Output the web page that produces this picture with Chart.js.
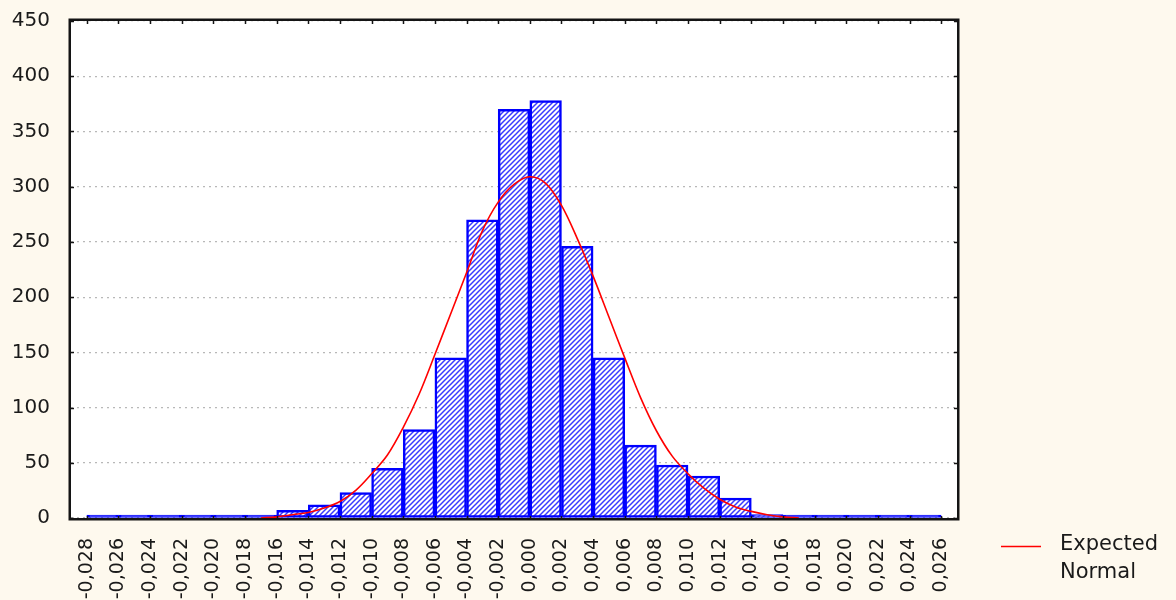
<!DOCTYPE html>
<html>
<head>
<meta charset="utf-8">
<script src="https://cdn.jsdelivr.net/npm/chart.js@4.4.0/dist/chart.umd.min.js"></script>
<style>
  html, body { margin: 0; padding: 0; background: #FEF9EE; }
  #wrap { width: 1176px; height: 600px; position: relative; }
</style>
</head>
<body>
<div id="wrap"><canvas id="c" width="1176" height="600"></canvas></div>
<script>
// ---------- DATA ----------
const binStarts = [-0.028, -0.026, -0.024, -0.022, -0.020, -0.018, -0.016, -0.014, -0.012,
                   -0.010, -0.008, -0.006, -0.004, -0.002, 0.000, 0.002, 0.004, 0.006,
                   0.008, 0.010, 0.012, 0.014, 0.016, 0.018, 0.020, 0.022, 0.024];
const binCounts = [0, 0, 0, 0, 0, 0, 7, 12, 23,
                   45, 80, 145, 270, 370, 378, 246, 145, 66,
                   48, 38, 18, 3, 0, 0, 0, 0, 0];
const binWidth = 0.002;

const curveX = [-0.0170, -0.0160, -0.0150, -0.0140, -0.0130, -0.0120, -0.0110, -0.0100,
                -0.0090, -0.0080, -0.0070, -0.0060, -0.0050, -0.0040, -0.0030, -0.0020,
                -0.0010, 0.0000, 0.0010, 0.0020, 0.0030, 0.0040, 0.0050, 0.0060,
                0.0070, 0.0080, 0.0090, 0.0100, 0.0110, 0.0120, 0.0130, 0.0140,
                0.0150, 0.0160, 0.0170];
const curveY = [0, 1, 3, 5, 9, 15, 25, 40,
                57, 82, 112, 148, 185, 222, 260, 286,
                302, 309, 303, 283, 253, 219, 182, 145,
                109, 79, 56, 40, 27, 17, 10, 6,
                3, 1, 0];

const xTickValues = [-0.028, -0.026, -0.024, -0.022, -0.020, -0.018, -0.016, -0.014, -0.012,
                     -0.010, -0.008, -0.006, -0.004, -0.002, 0.000, 0.002, 0.004, 0.006,
                     0.008, 0.010, 0.012, 0.014, 0.016, 0.018, 0.020, 0.022, 0.024, 0.026];
const xTickLabels = ['-0,028', '-0,026', '-0,024', '-0,022', '-0,020', '-0,018', '-0,016', '-0,014', '-0,012',
                     '-0,010', '-0,008', '-0,006', '-0,004', '-0,002', '0,000', '0,002', '0,004', '0,006',
                     '0,008', '0,010', '0,012', '0,014', '0,016', '0,018', '0,020', '0,022', '0,024', '0,026'];
const yTickValues = [0, 50, 100, 150, 200, 250, 300, 350, 400, 450];
const legendLines = ['Expected', 'Normal'];

// ---------- STYLE ----------
const BG = '#FEF9EE';
const FONT = "'DejaVu Sans', 'Liberation Sans', Arial, sans-serif";

function makeHatch() {
  const s = 5;
  const t = document.createElement('canvas');
  t.width = s; t.height = s;
  const g = t.getContext('2d');
  g.fillStyle = '#FFFFFF';
  g.fillRect(0, 0, s, s);
  g.strokeStyle = '#3A3AFF';
  g.lineWidth = 1.5;
  g.beginPath();
  g.moveTo(-1, s + 1); g.lineTo(s + 1, -1);
  g.moveTo(-1, 1); g.lineTo(1, -1);
  g.moveTo(s - 1, s + 1); g.lineTo(s + 1, s - 1);
  g.stroke();
  return document.getElementById('c').getContext('2d').createPattern(t, 'repeat');
}

const framePlugin = {
  id: 'frame',
  beforeDraw(chart) {
    const { ctx, chartArea: a } = chart;
    ctx.save();
    ctx.fillStyle = BG;
    ctx.fillRect(0, 0, chart.width, chart.height);
    ctx.fillStyle = '#FFFFFF';
    ctx.fillRect(a.left, a.top, a.right - a.left, a.bottom - a.top);
    ctx.restore();
  },
  afterDatasetsDraw(chart) {
    const { ctx, chartArea: a, scales } = chart;
    ctx.save();
    ctx.strokeStyle = '#141414';
    ctx.lineWidth = 2.5;
    ctx.strokeRect(a.left - 1.25, a.top - 1.25, a.right - a.left + 2.5, a.bottom - a.top + 2.5);
    // inner tick marks
    ctx.lineWidth = 1.5;
    ctx.beginPath();
    xTickValues.forEach(v => {
      const px = Math.round(scales.x.getPixelForValue(v)) + 0.5;
      ctx.moveTo(px, a.top); ctx.lineTo(px, a.top + 3);
      ctx.moveTo(px, a.bottom); ctx.lineTo(px, a.bottom - 2);
    });
    yTickValues.forEach(v => {
      const py = Math.round(scales.y.getPixelForValue(v)) + 0.5;
      ctx.moveTo(a.left, py); ctx.lineTo(a.left + 3, py);
      ctx.moveTo(a.right, py); ctx.lineTo(a.right - 3, py);
    });
    ctx.stroke();
    ctx.restore();
  },
  afterDraw(chart) {
    const { ctx } = chart;
    ctx.save();
    ctx.strokeStyle = '#FF0000';
    ctx.lineWidth = 1.5;
    ctx.beginPath();
    ctx.moveTo(1001, 546.5); ctx.lineTo(1041, 546.5);
    ctx.stroke();
    ctx.fillStyle = '#1A1A1A';
    ctx.font = '21px ' + FONT;
    ctx.textBaseline = 'middle';
    ctx.textAlign = 'left';
    ctx.fillText(legendLines[0], 1060, 545);
    ctx.fillText(legendLines[1], 1060, 573);
    ctx.restore();
  }
};

const hatch = makeHatch();

new Chart(document.getElementById('c'), {
  type: 'bar',
  data: {
    datasets: [
      {
        type: 'line',
        label: legendLines.join(' '),
        data: curveX.map((x, i) => ({ x: x, y: curveY[i] })),
        borderColor: '#FF0000',
        borderWidth: 1.6,
        pointRadius: 0,
        tension: 0.35,
        fill: false,
        order: 0
      },
      {
        type: 'bar',
        label: 'Counts',
        data: binStarts.map((s, i) => ({ x: s + binWidth / 2, y: binCounts[i] })),
        backgroundColor: (c) => (c.raw && c.raw.y === 0) ? '#0000FF' : hatch,
        borderColor: '#0000FF',
        borderWidth: 2.5,
        borderSkipped: false,
        minBarLength: 3,
        barPercentage: 1,
        categoryPercentage: 1,
        order: 1
      }
    ]
  },
  options: {
    responsive: false,
    animation: false,
    devicePixelRatio: 1,
    layout: { padding: { left: 0, right: 219, top: 21, bottom: 0 } },
    plugins: { legend: { display: false }, tooltip: { enabled: false } },
    scales: {
      x: {
        type: 'linear',
        min: -0.029,
        max: 0.027,
        offset: false,
        grid: { display: false, offset: false, drawTicks: false },
        border: { display: false },
        afterBuildTicks: (axis) => { axis.ticks = xTickValues.map(v => ({ value: v })); },
        afterFit: (s) => { s.height = 82; s.paddingLeft = 0; s.paddingRight = 0; },
        ticks: {
          autoSkip: false,
          minRotation: 90,
          maxRotation: 90,
          padding: 20,
          color: '#1A1A1A',
          font: { family: FONT, size: 19 },
          callback: (value, index) => xTickLabels[index]
        }
      },
      y: {
        min: 0,
        max: 450,
        afterBuildTicks: (axis) => { axis.ticks = yTickValues.map(v => ({ value: v })); },
        afterFit: (s) => { s.width = 71; s.paddingTop = 0; s.paddingBottom = 0; },
        grid: { color: '#B8B8B8', lineWidth: 1.2, drawTicks: false },
        border: { display: false, dash: [2, 4] },
        ticks: {
          padding: 21,
          color: '#1A1A1A',
          font: { family: FONT, size: 20 },
          callback: (v) => String(v)
        }
      }
    }
  },
  plugins: [framePlugin]
});
</script>
</body>
</html>
